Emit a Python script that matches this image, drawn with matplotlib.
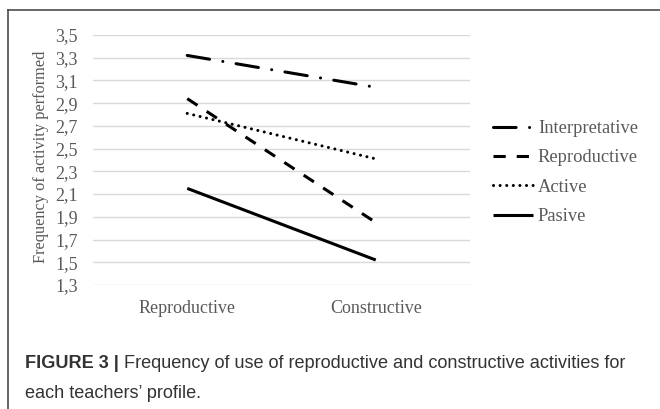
import matplotlib
matplotlib.use("Agg")
import matplotlib.pyplot as plt
from matplotlib.lines import Line2D

categories = ["Reproductive", "Constructive"]
series_names = ["Interpretative", "Reproductive", "Active", "Pasive"]
interpretative = [3.32, 3.04]
reproductive = [2.94, 1.85]
active = [2.81, 2.41]
pasive = [2.15, 1.52]
yticks = [1.3, 1.5, 1.7, 1.9, 2.1, 2.3, 2.5, 2.7, 2.9, 3.1, 3.3, 3.5]
ylabel = "Frequency of activity performed"
caption_bold = "FIGURE 3 | "
caption_l1 = "Frequency of use of reproductive and constructive activities for"
caption_l2 = "each teachers\u2019 profile."

W, H = 660, 409
fig = plt.figure(figsize=(W / 100, H / 100), dpi=100)

serif = "Liberation Serif"
gray = "#595959"
fs = 13

ax = fig.add_axes([93 / W, 1 - 285 / H, 377 / W, 250 / H])
x = list(range(len(categories)))
lw = 2.2
styles = [
    ((0, (7.4, 4.4, 0.01, 4.4)), "round"),
    ((0, (4.0, 3.6)), "butt"),
    ((0, (0.01, 2.15)), "round"),
    ("-", "butt"),
]
data = [interpretative, reproductive, active, pasive]
handles = []
for name, vals, (ls, cap) in zip(series_names, data, styles):
    (ln,) = ax.plot(x, vals, color="black", lw=lw, linestyle=ls,
                    dash_capstyle=cap, solid_capstyle="butt", label=name)
    handles.append(ln)

ax.set_xlim(-0.5, len(categories) - 0.5)
ax.set_ylim(yticks[0], yticks[-1])
ax.set_yticks(yticks)
ax.set_yticklabels([f"{v:.1f}".replace(".", ",") for v in yticks],
                   fontfamily=serif, fontsize=fs, color=gray)
ax.set_xticks(x)
ax.set_xticklabels(categories, fontfamily=serif, fontsize=fs, color=gray)
ax.tick_params(axis="y", length=0, pad=11)
ax.tick_params(axis="x", length=0, pad=11)
ax.grid(axis="y", color="#d9d9d9", lw=1)
ax.set_axisbelow(True)
for s in ax.spines.values():
    s.set_visible(False)
ax.set_ylabel(ylabel, fontfamily=serif, fontsize=11.8, color=gray)
ax.yaxis.set_label_coords(41 / W, 1 - 157 / H, transform=fig.transFigure)
ax.yaxis.label.set_va("center")

leg = fig.legend(handles=handles, loc="upper left",
                 bbox_to_anchor=(493 / W, 1 - 120 / H),
                 frameon=False, prop={"family": serif, "size": 13.3},
                 handlelength=2.15, handletextpad=0.28, labelspacing=0.67,
                 borderpad=0, borderaxespad=0)
for t in leg.get_texts():
    t.set_color(gray)

# frame lines
fig.add_artist(Line2D([8 / W, 8 / W], [0, 1 - 10 / H], color="#4d4d4d", lw=1.2,
                      transform=fig.transFigure))
fig.add_artist(Line2D([8 / W, 1], [1 - 10 / H, 1 - 10 / H], color="#4d4d4d", lw=1.2,
                      transform=fig.transFigure))

# caption
cap_color = "#333333"
sans = "Liberation Sans"
cfs = 13.1
t1 = fig.text(25 / W, 1 - 364 / H, caption_bold, fontfamily=sans, fontweight="bold",
              fontsize=cfs, color=cap_color, va="center", ha="left")
fig.canvas.draw()
r = fig.canvas.get_renderer()
bb = t1.get_window_extent(r)
fig.text(bb.x1 / W, 1 - 364 / H, caption_l1, fontfamily=sans, fontsize=cfs,
         color=cap_color, va="center", ha="left")
fig.text(25 / W, 1 - 393 / H, caption_l2, fontfamily=sans, fontsize=cfs,
         color=cap_color, va="center", ha="left")

fig.savefig("out.png", dpi=100)
